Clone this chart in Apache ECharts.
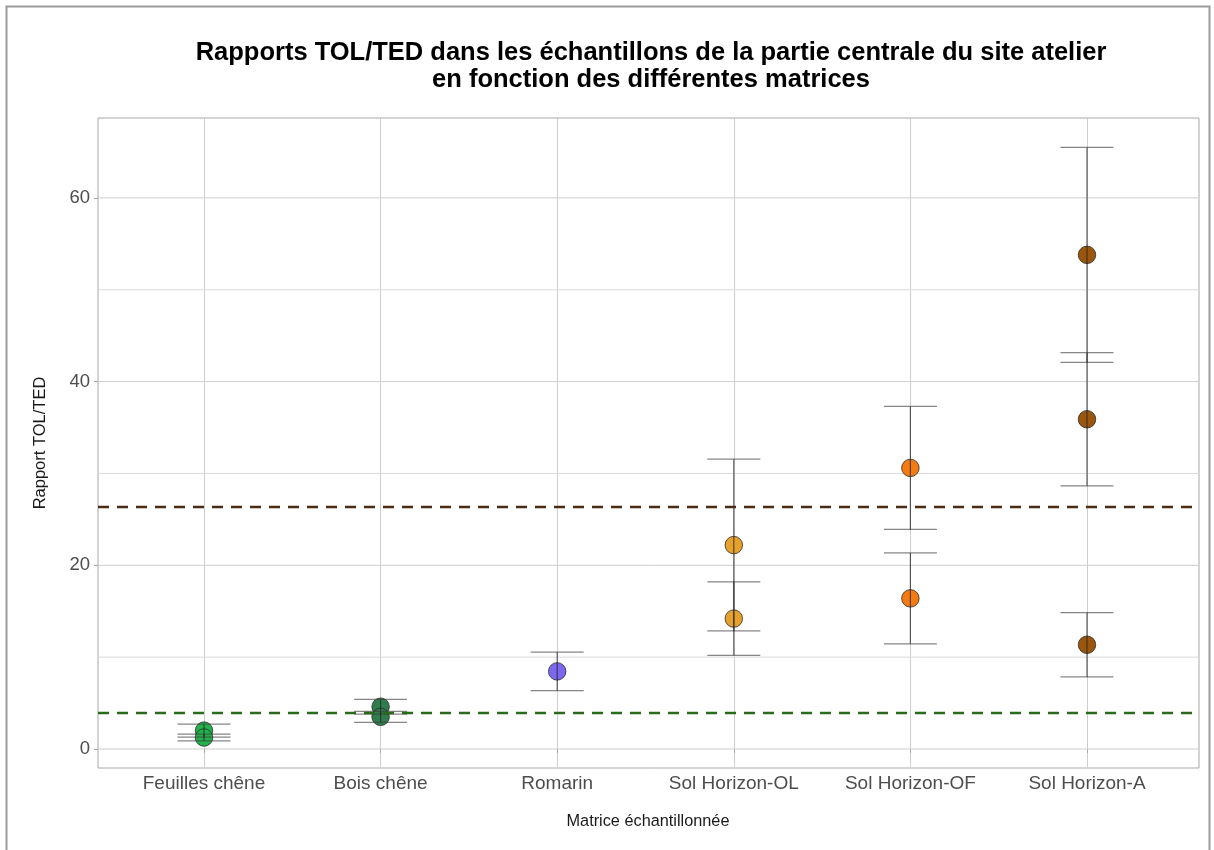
<!DOCTYPE html>
<html>
<head>
<meta charset="utf-8">
<script src="https://cdn.jsdelivr.net/npm/echarts@6/dist/echarts.min.js"></script>
<style>
  html, body { margin: 0; padding: 0; background: #ffffff; }
  #chart { width: 1214px; height: 850px; }
</style>
</head>
<body>
<div id="chart"></div>
<script>
// Matrices sampled (x categories)
const categories = ['Feuilles chêne', 'Bois chêne', 'Romarin', 'Sol Horizon-OL', 'Sol Horizon-OF', 'Sol Horizon-A'];

// TOL/TED ratio per sample, one array per matrix
const feuillesChene = [2.0, 1.25];
const boisChene = [4.6, 3.5];
const romarin = [8.45];
const solOL = [22.2, 14.2];
const solOF = [30.6, 16.4];
const solA = [53.8, 35.9, 11.35];

// Half-width of each sample's error bar (same order as the values above)
const errFeuillesChene = [0.7, 0.37];
const errBoisChene = [0.8, 0.6];
const errRomarin = [2.1];
const errSolOL = [9.35, 4.0];
const errSolOF = [6.7, 4.95];
const errSolA = [11.7, 7.25, 3.5];

// Reference thresholds (dashed lines)
const seuilHaut = 26.35;
const seuilBas = 3.92;

// Y axis
const yMin = -2.07;
const yMax = 68.7;
const yTickLabels = [0, 20, 40, 60];
const yMinorGrid = [10, 30, 50];

const values = [feuillesChene, boisChene, romarin, solOL, solOF, solA];
const errors = [errFeuillesChene, errBoisChene, errRomarin, errSolOL, errSolOF, errSolA];
const colors = ['#22b24c', '#2f7d4c', '#7b68ee', '#e6a02c', '#f47b12', '#9a560c'];

const FONT = '"Liberation Sans", Arial, sans-serif';

const chart = echarts.init(document.getElementById('chart'), null, { renderer: 'canvas' });

// One scatter series per matrix
const scatterSeries = values.map((arr, i) => ({
  type: 'scatter',
  xAxisIndex: 1,
  yAxisIndex: 1,
  z: 3,
  symbol: 'circle',
  symbolSize: 17.5,
  itemStyle: { color: colors[i], borderColor: '#2b2b2b', borderWidth: 0.8, opacity: 1 },
  emphasis: { disabled: true },
  data: arr.map(v => [i, v])
}));

// Error bar rows: [category index, low, high]
const errRows = [];
values.forEach((arr, i) => {
  arr.forEach((v, j) => {
    const e = errors[i][j];
    errRows.push([i, v - e, v + e]);
  });
});

const gridRows = yTickLabels.map(v => [v, 1]).concat(yMinorGrid.map(v => [v, 0]));

const option = {
  backgroundColor: '#ffffff',
  animation: false,
  title: {
    text: 'Rapports TOL/TED dans les échantillons de la partie centrale du site atelier\nen fonction des différentes matrices',
    left: 646,
    top: 34,
    textAlign: 'center',
    textStyle: {
      fontFamily: FONT,
      fontSize: 25.5,
      fontWeight: 'bold',
      color: '#000000',
      lineHeight: 27
    }
  },
  graphic: [
    {
      type: 'rect',
      shape: { x: 6.5, y: 6.5, width: 1203, height: 860 },
      style: { fill: 'none', stroke: '#9a9a9a', lineWidth: 2 },
      silent: true
    },
    {
      type: 'text',
      x: 40,
      y: 443,
      rotation: Math.PI / 2,
      style: {
        text: 'Rapport TOL/TED',
        fontFamily: FONT,
        fontSize: 16.5,
        fill: '#1a1a1a',
        textAlign: 'center',
        textVerticalAlign: 'middle'
      },
      silent: true
    },
    {
      type: 'text',
      x: 648,
      y: 822,
      style: {
        text: 'Matrice échantillonnée',
        fontFamily: FONT,
        fontSize: 16.3,
        fill: '#1a1a1a',
        textAlign: 'center',
        textVerticalAlign: 'middle'
      },
      silent: true
    }
  ],
  grid: [
    { left: 98, right: 15, top: 118, bottom: 82, show: true, borderColor: '#a8a8a8', borderWidth: 1, backgroundColor: 'transparent' },
    { left: 204, right: 127, top: 118, bottom: 82, show: false }
  ],
  xAxis: [
    { type: 'value', gridIndex: 0, min: 0, max: 1, show: false },
    {
      type: 'category',
      gridIndex: 1,
      data: categories,
      boundaryGap: false,
      axisLine: { show: false },
      axisTick: { show: true, length: 4, alignWithLabel: true, lineStyle: { color: '#a8a8a8', width: 1 } },
      axisLabel: { fontFamily: FONT, fontSize: 19, color: '#4d4d4d', margin: 6, interval: 0 },
      splitLine: { show: true, lineStyle: { color: '#cdcdcd', width: 1 } }
    }
  ],
  yAxis: [
    {
      type: 'value',
      gridIndex: 0,
      min: yMin,
      max: yMax,
      axisLine: { show: false },
      axisTick: { show: true, length: 4, customValues: yTickLabels, lineStyle: { color: '#a8a8a8', width: 1 } },
      axisLabel: { customValues: yTickLabels, fontFamily: FONT, fontSize: 18.5, color: '#4d4d4d', margin: 8 },
      splitLine: { show: false }
    },
    { type: 'value', gridIndex: 1, min: yMin, max: yMax, show: false }
  ],
  series: [
    // horizontal grid lines across the full panel
    {
      type: 'custom',
      xAxisIndex: 0,
      yAxisIndex: 0,
      z: 1,
      silent: true,
      data: gridRows,
      renderItem: function (params, api) {
        const y = api.value(0);
        const p1 = api.coord([0, y]);
        const p2 = api.coord([1, y]);
        return {
          type: 'line',
          shape: { x1: p1[0], y1: p1[1], x2: p2[0], y2: p2[1] },
          style: { stroke: api.value(1) ? '#cdcdcd' : '#dadada', lineWidth: 1 }
        };
      }
    },
    ...scatterSeries,
    // error bars
    {
      type: 'custom',
      xAxisIndex: 1,
      yAxisIndex: 1,
      z: 4,
      silent: true,
      data: errRows,
      renderItem: function (params, api) {
        const x = api.value(0);
        const lo = api.coord([x, api.value(1)]);
        const hi = api.coord([x, api.value(2)]);
        const hw = api.size([1, 0])[0] * 0.15;
        const vst = { stroke: 'rgba(35,35,35,0.72)', lineWidth: 1.2 };
        const cst = { stroke: 'rgba(60,60,60,0.62)', lineWidth: 1.2 };
        return {
          type: 'group',
          children: [
            { type: 'line', shape: { x1: lo[0], y1: lo[1], x2: hi[0], y2: hi[1] }, style: vst },
            { type: 'line', shape: { x1: lo[0] - hw, y1: lo[1], x2: lo[0] + hw, y2: lo[1] }, style: cst },
            { type: 'line', shape: { x1: hi[0] - hw, y1: hi[1], x2: hi[0] + hw, y2: hi[1] }, style: cst }
          ]
        };
      }
    },
    // dashed thresholds
    {
      type: 'custom',
      xAxisIndex: 0,
      yAxisIndex: 0,
      z: 5,
      silent: true,
      data: [[seuilHaut, 0], [seuilBas, 1]],
      renderItem: function (params, api) {
        const y = api.value(0);
        const p1 = api.coord([0, y]);
        const p2 = api.coord([1, y]);
        return {
          type: 'line',
          shape: { x1: p1[0], y1: p1[1], x2: p2[0], y2: p2[1] },
          style: { stroke: api.value(1) ? '#2a6a1c' : '#4a2c14', lineWidth: 2.6, lineDash: [11, 8] }
        };
      }
    }
  ]
};

chart.setOption(option);
</script>
</body>
</html>
